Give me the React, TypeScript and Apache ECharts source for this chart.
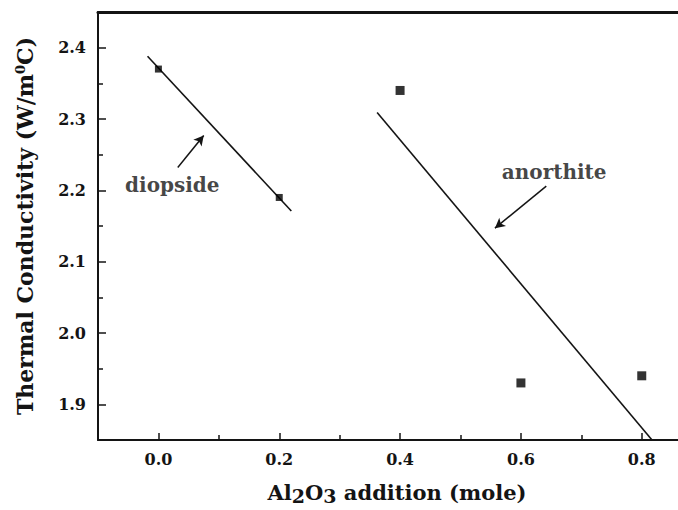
import React, { useEffect, useRef } from "react";
import * as echarts from "echarts";

const xMajorTicks = [0, 0.2, 0.4, 0.6, 0.8];
const xMinorTicks = [0.1, 0.3, 0.5, 0.7];
const yMajorTicks = [1.9, 2.0, 2.1, 2.2, 2.3, 2.4];
const yMinorTicks = [1.95, 2.05, 2.15, 2.25, 2.35];

const diopsideX = [0.0, 0.2];
const diopsideY = [2.37, 2.19];
const anorthiteX = [0.4, 0.6, 0.8];
const anorthiteY = [2.34, 1.93, 1.94];

const diopsideFitX = [-0.018, 0.22];
const diopsideFitY = [2.388, 2.171];
const anorthiteFitX = [0.362, 0.817];
const anorthiteFitY = [2.309, 1.85];

const diopsideArrowX = [0.032, 0.075];
const diopsideArrowY = [2.232, 2.277];
const anorthiteArrowX = [0.642, 0.557];
const anorthiteArrowY = [2.206, 2.147];

const labelNames = ["diopside", "anorthite"];
const labelX = [0.023, 0.655];
const labelY = [2.207, 2.226];

const FONT = "'DejaVu Serif', 'Liberation Serif', serif";
const INK = "#141414";

export default function App() {
  const ref = useRef<HTMLDivElement>(null);
  useEffect(() => {
    if (!ref.current) return;
    const chart = echarts.init(ref.current, undefined, { renderer: "svg" });
    const pairs = (xs: number[], ys: number[]) => xs.map((x, i) => [x, ys[i]]);
    const commonX = { type: "value", min: -0.1, max: 0.86, splitLine: { show: false } };
    const commonY = { type: "value", min: 1.85, max: 2.45, splitLine: { show: false } };
    chart.setOption({
      animation: false,
      backgroundColor: "#ffffff",
      grid: { left: 98, top: 12, width: 592, height: 431, containLabel: false },
      xAxis: [
        {
          ...commonX,
          position: "bottom",
          axisLine: { show: true, onZero: false, lineStyle: { color: INK, width: 2 } },
          axisTick: { show: true, inside: true, length: 7, customValues: xMajorTicks, lineStyle: { color: INK, width: 1.5 } },
          axisLabel: {
            customValues: xMajorTicks,
            formatter: (v: number) => v.toFixed(1),
            fontFamily: FONT, fontWeight: "bold", fontSize: 16, color: INK, margin: 11,
          },
          name: "Al{s|2}O{s|3} addition (mole)",
          nameLocation: "middle",
          nameGap: 39,
          nameTextStyle: {
            fontFamily: FONT, fontWeight: "bold", fontSize: 21, color: INK,
            padding: [0, 0, 0, 18],
            rich: {
              s: { fontFamily: FONT, fontWeight: "bold", fontSize: 19, color: INK, padding: [7, 0, 0, 0], verticalAlign: "bottom" },
            },
          },
        },
        {
          ...commonX,
          position: "bottom",
          axisLine: { show: false, onZero: false },
          axisTick: { show: true, inside: true, length: 5, customValues: xMinorTicks, lineStyle: { color: INK, width: 1.5 } },
          axisLabel: { show: false },
        },
        {
          ...commonX,
          position: "top",
          axisLine: { show: true, onZero: false, lineStyle: { color: INK, width: 3 } },
          axisTick: { show: false },
          axisLabel: { show: false },
        },
      ],
      yAxis: [
        {
          ...commonY,
          position: "left",
          axisLine: { show: true, onZero: false, lineStyle: { color: INK, width: 2 } },
          axisTick: { show: true, inside: true, length: 8, customValues: yMajorTicks, lineStyle: { color: INK, width: 1.5 } },
          axisLabel: {
            customValues: yMajorTicks,
            formatter: (v: number) => v.toFixed(1),
            fontFamily: FONT, fontWeight: "bold", fontSize: 16, color: INK, margin: 12,
          },
          name: "Thermal Conductivity (W/m{sup|0}C)",
          nameLocation: "middle",
          nameGap: 62,
          nameTextStyle: {
            fontFamily: FONT, fontWeight: "bold", fontSize: 22, color: INK,
            rich: {
              sup: { fontFamily: FONT, fontWeight: "bold", fontSize: 13, color: INK, verticalAlign: "top", padding: [0, 0, 9, 0] },
            },
          },
        },
        {
          ...commonY,
          position: "left",
          axisLine: { show: false, onZero: false },
          axisTick: { show: true, inside: true, length: 5, customValues: yMinorTicks, lineStyle: { color: INK, width: 1.5 } },
          axisLabel: { show: false },
        },
      ],
      series: [
        {
          type: "line",
          data: pairs(diopsideFitX, diopsideFitY),
          symbol: "none",
          lineStyle: { color: INK, width: 1.6 },
          z: 2,
        },
        {
          type: "line",
          data: pairs(anorthiteFitX, anorthiteFitY),
          symbol: "none",
          lineStyle: { color: INK, width: 1.6 },
          z: 2,
        },
        {
          type: "scatter",
          data: pairs(diopsideX, diopsideY),
          symbol: "rect",
          symbolSize: 7,
          itemStyle: { color: "#000" },
          z: 3,
        },
        {
          type: "scatter",
          data: pairs(anorthiteX, anorthiteY),
          symbol: "rect",
          symbolSize: 9,
          itemStyle: { color: "#000" },
          z: 3,
        },
        {
          type: "scatter",
          data: labelNames.map((n, i) => ({ name: n, value: [labelX[i], labelY[i]] })),
          symbolSize: 0,
          label: {
            show: true,
            position: "inside",
            formatter: (p: any) => p.name,
            fontFamily: FONT, fontWeight: "bold", fontSize: 20, color: INK,
          },
          silent: true,
          markLine: {
            silent: true,
            symbol: ["none", "arrow"],
            symbolSize: [8, 10],
            label: { show: false },
            lineStyle: { color: INK, width: 1.5, type: "solid" },
            data: [
              [
                { coord: [diopsideArrowX[0], diopsideArrowY[0]] },
                { coord: [diopsideArrowX[1], diopsideArrowY[1]] },
              ],
              [
                { coord: [anorthiteArrowX[0], anorthiteArrowY[0]] },
                { coord: [anorthiteArrowX[1], anorthiteArrowY[1]] },
              ],
            ],
          },
        },
      ],
    });
    return () => chart.dispose();
  }, []);
  return <div ref={ref} style={{ width: 678, height: 510, position: "absolute", left: 0, top: 0 }} />;
}
